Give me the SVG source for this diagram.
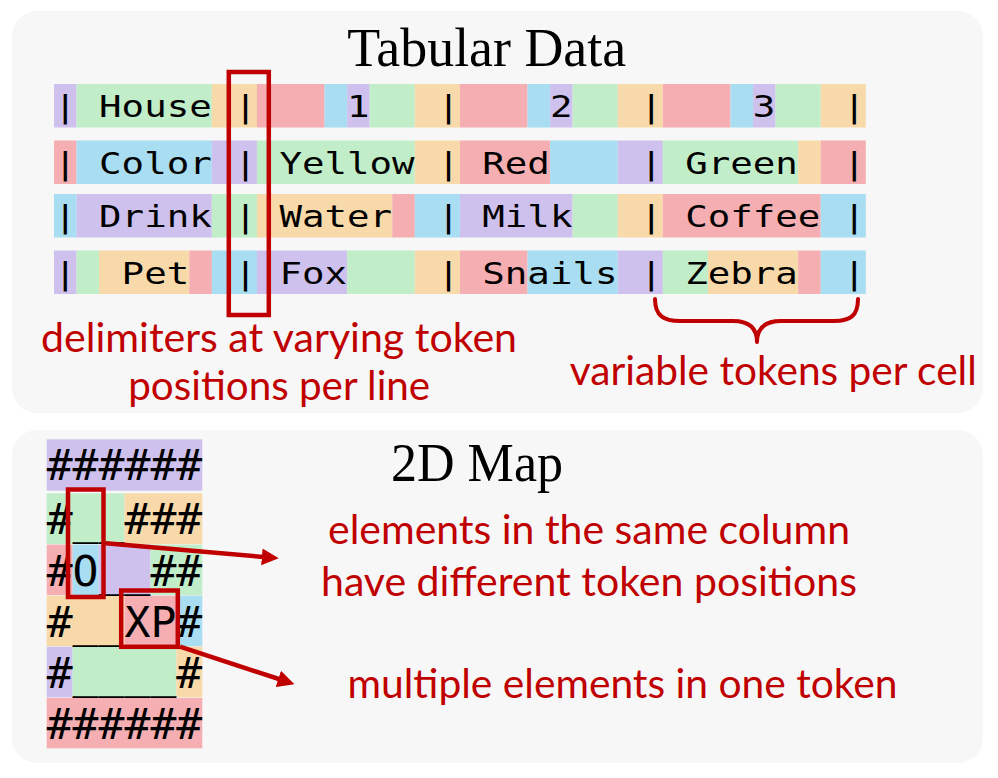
<svg xmlns="http://www.w3.org/2000/svg" width="998" height="778" viewBox="0 0 998 778">
<defs>
<style>
.P{fill:#cfc1ee}.G{fill:#c1edc9}.O{fill:#f8d9a9}.K{fill:#f5aeb1}.B{fill:#a9ddf1}
.panel{fill:#f7f7f7}
.mono{font-family:"DejaVu Sans Mono",monospace;fill:#000}
.title{font-family:"Liberation Serif","Times New Roman",serif;font-size:54px;fill:#000;text-anchor:middle}
.note{font-family:Lato,"Open Sans",sans-serif;font-size:40px;fill:#c00000;text-anchor:middle}
.box{fill:none;stroke:#c00000;stroke-width:4.5}
.conn{fill:none;stroke:#c00000;stroke-width:4.5}
.brace{fill:none;stroke:#c00000;stroke-width:4;stroke-linecap:round;stroke-linejoin:round}
</style>
<marker id="ah" markerUnits="userSpaceOnUse" markerWidth="17" markerHeight="17" viewBox="0 0 16 16" refX="8" refY="8" orient="auto"><path d="M0,0 L16,8 L0,16 z" fill="#c00000"/></marker>
</defs>
<rect x="0" y="0" width="998" height="778" fill="#ffffff"/>
<g id="panel-tabular"><rect class="panel" x="12" y="11" width="971" height="402" rx="25"/></g>
<g id="panel-map"><rect class="panel" x="12" y="430" width="971" height="333" rx="25"/></g>

<g id="title-tabular"><text class="title" x="486.7" y="65.5" textLength="279" lengthAdjust="spacingAndGlyphs">Tabular Data</text></g>

<g id="table">
<g transform="translate(54,0) scale(22.55,1)">
<rect class="P" x="0" y="84" width="1" height="43.5"/><rect class="G" x="1" y="84" width="6" height="43.5"/><rect class="O" x="7" y="84" width="2" height="43.5"/><rect class="K" x="9" y="84" width="3" height="43.5"/><rect class="B" x="12" y="84" width="1" height="43.5"/><rect class="P" x="13" y="84" width="1" height="43.5"/><rect class="G" x="14" y="84" width="2" height="43.5"/><rect class="O" x="16" y="84" width="2" height="43.5"/><rect class="K" x="18" y="84" width="3" height="43.5"/><rect class="B" x="21" y="84" width="1" height="43.5"/><rect class="P" x="22" y="84" width="1" height="43.5"/><rect class="G" x="23" y="84" width="2" height="43.5"/><rect class="O" x="25" y="84" width="2" height="43.5"/><rect class="K" x="27" y="84" width="3" height="43.5"/><rect class="B" x="30" y="84" width="1" height="43.5"/><rect class="P" x="31" y="84" width="1" height="43.5"/><rect class="G" x="32" y="84" width="2" height="43.5"/><rect class="O" x="34" y="84" width="2" height="43.5"/>
<rect class="K" x="0" y="140.5" width="1" height="43.5"/><rect class="B" x="1" y="140.5" width="6" height="43.5"/><rect class="P" x="7" y="140.5" width="2" height="43.5"/><rect class="G" x="9" y="140.5" width="7" height="43.5"/><rect class="O" x="16" y="140.5" width="2" height="43.5"/><rect class="K" x="18" y="140.5" width="4" height="43.5"/><rect class="B" x="22" y="140.5" width="3" height="43.5"/><rect class="P" x="25" y="140.5" width="2" height="43.5"/><rect class="G" x="27" y="140.5" width="6" height="43.5"/><rect class="O" x="33" y="140.5" width="1" height="43.5"/><rect class="K" x="34" y="140.5" width="2" height="43.5"/>
<rect class="B" x="0" y="194" width="1" height="43.5"/><rect class="P" x="1" y="194" width="6" height="43.5"/><rect class="G" x="7" y="194" width="2" height="43.5"/><rect class="O" x="9" y="194" width="6" height="43.5"/><rect class="K" x="15" y="194" width="1" height="43.5"/><rect class="B" x="16" y="194" width="2" height="43.5"/><rect class="P" x="18" y="194" width="5" height="43.5"/><rect class="G" x="23" y="194" width="2" height="43.5"/><rect class="O" x="25" y="194" width="2" height="43.5"/><rect class="K" x="27" y="194" width="7" height="43.5"/><rect class="B" x="34" y="194" width="2" height="43.5"/>
<rect class="P" x="0" y="250.5" width="1" height="43.5"/><rect class="G" x="1" y="250.5" width="1" height="43.5"/><rect class="O" x="2" y="250.5" width="4" height="43.5"/><rect class="K" x="6" y="250.5" width="1" height="43.5"/><rect class="B" x="7" y="250.5" width="2" height="43.5"/><rect class="P" x="9" y="250.5" width="4" height="43.5"/><rect class="G" x="13" y="250.5" width="3" height="43.5"/><rect class="O" x="16" y="250.5" width="2" height="43.5"/><rect class="K" x="18" y="250.5" width="3" height="43.5"/><rect class="B" x="21" y="250.5" width="4" height="43.5"/><rect class="P" x="25" y="250.5" width="2" height="43.5"/><rect class="G" x="27" y="250.5" width="2" height="43.5"/><rect class="O" x="29" y="250.5" width="4" height="43.5"/><rect class="K" x="33" y="250.5" width="1" height="43.5"/><rect class="B" x="34" y="250.5" width="2" height="43.5"/>
</g>
<text class="mono" font-size="30.6" transform="translate(54,117.3) scale(1.224,1)" xml:space="preserve">| House |    1   |    2   |    3   |</text>
<text class="mono" font-size="30.6" transform="translate(54,173.8) scale(1.224,1)" xml:space="preserve">| Color | Yellow | Red    | Green  |</text>
<text class="mono" font-size="30.6" transform="translate(54,227.3) scale(1.224,1)" xml:space="preserve">| Drink | Water  | Milk   | Coffee |</text>
<text class="mono" font-size="30.6" transform="translate(54,283.8) scale(1.224,1)" xml:space="preserve">|  Pet  | Fox    | Snails | Zebra  |</text>
</g>

<g id="delimiter-box"><rect class="box" x="228.8" y="72" width="40" height="243"/></g>

<g id="title-map"><text class="title" x="477" y="481" textLength="172" lengthAdjust="spacingAndGlyphs">2D Map</text></g>

<g id="map">
<g transform="translate(46.7,0) scale(25.93,1)">
<rect class="P" x="0" y="439.3" width="6" height="51.4"/>
<rect class="G" x="0" y="493.3" width="3" height="50.8"/><rect class="O" x="3" y="493.3" width="3" height="50.8"/>
<rect class="K" x="0" y="544.6" width="1" height="50.6"/><rect class="B" x="1" y="544.6" width="1" height="50.6"/><rect class="P" x="2" y="544.6" width="2" height="50.6"/><rect class="G" x="4" y="544.6" width="2" height="50.6"/>
<rect class="O" x="0" y="595.7" width="3" height="50.5"/><rect class="K" x="3" y="595.7" width="2" height="50.5"/><rect class="B" x="5" y="595.7" width="1" height="50.5"/>
<rect class="P" x="0" y="646.7" width="1" height="50.7"/><rect class="G" x="1" y="646.7" width="4" height="50.7"/><rect class="O" x="5" y="646.7" width="1" height="50.7"/>
<rect class="K" x="0" y="698" width="6" height="50.3"/>
</g>
<text class="mono" font-size="43.07" x="46.7" y="480.3">######</text>
<text class="mono" font-size="43.07" x="46.7" y="534.3">#__###</text>
<text class="mono" font-size="43.07" x="46.7" y="585.7">#O__##</text>
<text class="mono" font-size="43.07" x="46.7" y="636.7">#__XP#</text>
<text class="mono" font-size="43.07" x="46.7" y="687.7">#____#</text>
<text class="mono" font-size="43.07" x="46.7" y="739">######</text>
</g>

<g id="column-box"><rect class="box" x="68" y="489.5" width="35.5" height="107.5"/></g>
<g id="token-box"><rect class="box" x="121.2" y="590.5" width="56.6" height="56.3"/></g>

<g id="connectors">
<line class="conn" x1="105.7" y1="543.3" x2="270.3" y2="557.6" marker-end="url(#ah)"/>
<line class="conn" x1="180" y1="646.7" x2="286.4" y2="681.5" marker-end="url(#ah)"/>
<path class="brace" d="M655,299 C655,316 664,321 680,321 L733,321 C749,321 757,328 757,342 C757,328 765,321 781,321 L834,321 C850,321 858,316 858,299"/>
</g>

<g id="labels">
<text class="note" x="279" y="351.5" textLength="476" lengthAdjust="spacingAndGlyphs">delimiters at varying token</text>
<text class="note" x="279.2" y="399.5" textLength="302" lengthAdjust="spacingAndGlyphs">positions per line</text>
<text class="note" x="773.3" y="384.5" textLength="407" lengthAdjust="spacingAndGlyphs">variable tokens per cell</text>
<text class="note" x="589" y="544" textLength="522" lengthAdjust="spacingAndGlyphs">elements in the same column</text>
<text class="note" x="589" y="595.5" textLength="536" lengthAdjust="spacingAndGlyphs">have different token positions</text>
<text class="note" x="622.5" y="697.5" textLength="550" lengthAdjust="spacingAndGlyphs">multiple elements in one token</text>
</g>
</svg>
